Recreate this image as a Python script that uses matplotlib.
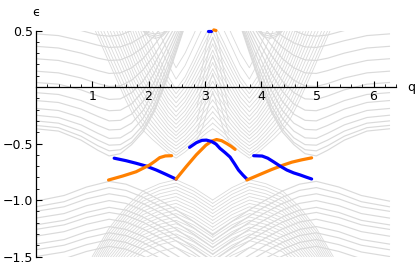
import numpy as np
import matplotlib
matplotlib.use("Agg")
import matplotlib.pyplot as plt
from matplotlib.ticker import MultipleLocator

# ---- data (q in [0, pi]; spectrum is mirror symmetric about q = pi) ----
# upper band, lines falling from q = 0 and turning up past their minimum
upper_a_q = [0.0, 0.4, 0.8, 1.1, 1.3, 1.5, 1.7, 1.9, 2.1, 2.3, 2.5, 2.7]
upper_a_y = [
    [0.55, 0.54, 0.50, 0.46, 0.45, 0.46, 0.50, 0.57, 0.65, 0.75, 0.85, 0.95],
    [0.47, 0.455, 0.41, 0.37, 0.35, 0.355, 0.39, 0.45, 0.53, 0.63, 0.75, 0.87],
    [0.36, 0.345, 0.30, 0.255, 0.235, 0.24, 0.28, 0.35, 0.45, 0.57, 0.70, 0.83],
    [0.25, 0.235, 0.19, 0.145, 0.12, 0.125, 0.17, 0.25, 0.37, 0.50, 0.65, 0.80],
    [0.14, 0.125, 0.08, 0.03, 0.005, 0.01, 0.06, 0.15, 0.28, 0.44, 0.60, 0.76],
    [0.04, 0.025, -0.025, -0.08, -0.11, -0.105, -0.05, 0.05, 0.20, 0.38, 0.56, 0.74],
    [-0.05, -0.066, -0.12, -0.18, -0.21, -0.205, -0.15, -0.04, 0.12, 0.32, 0.52, 0.72],
    [-0.12, -0.137, -0.195, -0.26, -0.30, -0.295, -0.24, -0.13, 0.04, 0.26, 0.48, 0.70],
    [-0.19, -0.208, -0.27, -0.34, -0.38, -0.375, -0.32, -0.21, -0.03, 0.20, 0.44, 0.68],
    [-0.25, -0.27, -0.335, -0.41, -0.455, -0.45, -0.39, -0.28, -0.10, 0.14, 0.40, 0.66],
    [-0.30, -0.32, -0.39, -0.47, -0.515, -0.51, -0.45, -0.34, -0.16, 0.09, 0.37, 0.64],
    [-0.34, -0.36, -0.435, -0.52, -0.565, -0.555, -0.49, -0.375, -0.20, 0.05, 0.34, 0.63],
    [-0.37, -0.39, -0.47, -0.56, -0.61, -0.59, -0.51, -0.40, -0.22, 0.03, 0.32, 0.62],
]
# upper band, lines with their minimum at the gap neck q ~ 2.49
upper_b_q = [1.0, 1.35, 1.6, 1.75, 1.9, 2.05, 2.2, 2.35, 2.49, 2.65, 2.8, 2.95, 3.05, np.pi]
upper_b_y = [
    [0.56, 0.16, -0.12, -0.27, -0.38, -0.455, -0.52, -0.585, -0.63, -0.575, -0.51, -0.44, -0.40, -0.37],
    [0.61, 0.21, -0.07, -0.22, -0.335, -0.415, -0.49, -0.555, -0.605, -0.545, -0.48, -0.405, -0.36, -0.32],
    [0.67, 0.27, -0.01, -0.17, -0.29, -0.38, -0.46, -0.53, -0.58, -0.52, -0.45, -0.37, -0.32, -0.27],
    [0.73, 0.33, 0.05, -0.115, -0.24, -0.34, -0.425, -0.50, -0.55, -0.49, -0.415, -0.33, -0.275, -0.22],
    [0.80, 0.40, 0.11, -0.06, -0.19, -0.30, -0.39, -0.47, -0.52, -0.46, -0.38, -0.29, -0.23, -0.17],
    [0.86, 0.46, 0.17, -0.005, -0.14, -0.255, -0.35, -0.435, -0.49, -0.425, -0.34, -0.245, -0.18, -0.115],
    [0.93, 0.53, 0.23, 0.05, -0.09, -0.21, -0.31, -0.40, -0.46, -0.39, -0.30, -0.20, -0.13, -0.06],
    [1.00, 0.60, 0.29, 0.105, -0.04, -0.165, -0.27, -0.365, -0.43, -0.355, -0.26, -0.155, -0.08, -0.005],
    [1.06, 0.66, 0.35, 0.16, 0.01, -0.12, -0.23, -0.33, -0.40, -0.32, -0.22, -0.11, -0.03, 0.05],
    [1.13, 0.73, 0.41, 0.22, 0.06, -0.075, -0.19, -0.295, -0.365, -0.285, -0.18, -0.065, 0.02, 0.105],
    [1.20, 0.80, 0.48, 0.28, 0.11, -0.03, -0.15, -0.26, -0.33, -0.25, -0.14, -0.02, 0.07, 0.16],
    [1.26, 0.86, 0.54, 0.34, 0.165, 0.02, -0.105, -0.22, -0.295, -0.21, -0.095, 0.03, 0.12, 0.215],
    [1.33, 0.93, 0.60, 0.40, 0.22, 0.07, -0.06, -0.18, -0.26, -0.17, -0.05, 0.08, 0.17, 0.27],
    [1.39, 0.99, 0.66, 0.46, 0.275, 0.12, -0.015, -0.14, -0.22, -0.13, -0.005, 0.13, 0.225, 0.325],
    [1.45, 1.05, 0.72, 0.52, 0.33, 0.17, 0.03, -0.10, -0.18, -0.09, 0.04, 0.18, 0.28, 0.38],
    [1.51, 1.11, 0.78, 0.58, 0.39, 0.225, 0.08, -0.055, -0.14, -0.045, 0.09, 0.235, 0.335, 0.435],
    [1.58, 1.18, 0.85, 0.64, 0.45, 0.28, 0.13, -0.01, -0.10, 0.00, 0.14, 0.29, 0.39, 0.49],
    [1.64, 1.24, 0.91, 0.70, 0.51, 0.34, 0.185, 0.04, -0.06, 0.045, 0.19, 0.345, 0.445, 0.545],
    [1.71, 1.31, 0.98, 0.76, 0.57, 0.40, 0.24, 0.09, -0.02, 0.09, 0.24, 0.40, 0.50, 0.60],
    [1.83, 1.43, 1.10, 0.90, 0.70, 0.52, 0.35, 0.20, 0.07, 0.19, 0.35, 0.51, 0.62, 0.72],
    [1.93, 1.53, 1.20, 1.00, 0.82, 0.64, 0.47, 0.31, 0.17, 0.30, 0.46, 0.63, 0.74, 0.85],
]
# steep lines packed into the column at q = pi
upper_d_q = [2.86, 2.96, 3.04, 3.1, np.pi]
upper_d_y = [
    [-0.47, -0.36, -0.22, -0.10, -0.04],
    [-0.40, -0.24, -0.07, 0.06, 0.12],
    [-0.30, -0.10, 0.09, 0.22, 0.28],
    [-0.18, 0.04, 0.25, 0.38, 0.44],
    [-0.05, 0.18, 0.40, 0.53, 0.60],
]
# dense patch just under the top edge near q ~ 2.1
upper_c_q = [1.85, 2.0, 2.12, 2.25, 2.38]
upper_c_y = [
    [0.52, 0.45, 0.43, 0.45, 0.52],
    [0.52, 0.465, 0.45, 0.465, 0.52],
    [0.52, 0.48, 0.47, 0.48, 0.52],
]
# lower band, lines peaking at the neck q ~ 1.3
lower_a_q = [0.0, 0.5, 0.9, 1.3, 1.6, 1.9, 2.2, 2.5, 2.8, np.pi]
lower_a_y = [
    [-1.01, -0.96, -0.885, -0.835, -0.86, -0.92, -1.00, -1.09, -1.19, -1.31],
    [-1.06, -1.015, -0.94, -0.89, -0.915, -0.975, -1.055, -1.145, -1.245, -1.365],
    [-1.10, -1.06, -0.99, -0.945, -0.97, -1.03, -1.11, -1.20, -1.30, -1.42],
    [-1.16, -1.12, -1.05, -1.005, -1.03, -1.09, -1.17, -1.26, -1.36, -1.48],
    [-1.22, -1.18, -1.11, -1.065, -1.09, -1.15, -1.23, -1.32, -1.42, -1.54],
    [-1.26, -1.22, -1.155, -1.11, -1.135, -1.195, -1.275, -1.365, -1.465, -1.585],
    [-1.32, -1.28, -1.215, -1.17, -1.195, -1.255, -1.335, -1.425, -1.525, -1.645],
    [-1.39, -1.35, -1.28, -1.235, -1.26, -1.32, -1.40, -1.49, -1.59, -1.71],
    [-1.44, -1.40, -1.335, -1.29, -1.315, -1.375, -1.455, -1.545, -1.645, -1.765],
    [-1.50, -1.46, -1.395, -1.35, -1.375, -1.435, -1.515, -1.605, -1.705, -1.825],
    [-1.56, -1.52, -1.455, -1.41, -1.435, -1.495, -1.575, -1.665, -1.765, -1.885],
]
# lower band, lines peaking at the neck q ~ 2.49
lower_b_q = [1.0, 1.3, 1.6, 1.9, 2.2, 2.49, 2.8, np.pi]
lower_b_y = [
    [-1.50, -1.25, -1.06, -0.92, -0.855, -0.82, -0.89, -1.00],
    [-1.53, -1.28, -1.09, -0.95, -0.885, -0.85, -0.92, -1.03],
    [-1.56, -1.31, -1.12, -0.98, -0.915, -0.88, -0.95, -1.06],
    [-1.59, -1.34, -1.15, -1.01, -0.945, -0.91, -0.98, -1.09],
    [-1.62, -1.37, -1.18, -1.04, -0.975, -0.94, -1.01, -1.12],
    [-1.65, -1.40, -1.21, -1.07, -1.005, -0.97, -1.04, -1.15],
    [-1.68, -1.43, -1.24, -1.10, -1.035, -1.00, -1.07, -1.18],
    [-1.71, -1.46, -1.27, -1.13, -1.065, -1.03, -1.10, -1.21],
    [-1.74, -1.49, -1.30, -1.16, -1.095, -1.06, -1.13, -1.24],
    [-1.77, -1.52, -1.33, -1.19, -1.125, -1.09, -1.16, -1.27],
    [-1.80, -1.55, -1.36, -1.22, -1.155, -1.12, -1.19, -1.30],
    [-1.83, -1.58, -1.39, -1.25, -1.185, -1.15, -1.22, -1.33],
    [-1.86, -1.61, -1.42, -1.28, -1.215, -1.18, -1.25, -1.36],
    [-1.89, -1.64, -1.45, -1.31, -1.245, -1.21, -1.28, -1.39],
    [-1.92, -1.67, -1.48, -1.34, -1.275, -1.24, -1.31, -1.42],
    [-1.95, -1.70, -1.51, -1.37, -1.305, -1.27, -1.34, -1.45],
    [-1.98, -1.73, -1.54, -1.40, -1.335, -1.30, -1.37, -1.48],
    [-2.01, -1.76, -1.57, -1.43, -1.365, -1.33, -1.40, -1.51],
    [-2.04, -1.79, -1.60, -1.46, -1.395, -1.36, -1.43, -1.54],
    [-2.10, -1.85, -1.66, -1.52, -1.455, -1.42, -1.49, -1.60],
]

# edge states
blue_1_q = [1.39, 1.6, 1.78, 1.96, 2.14, 2.31, 2.49]
blue_1_y = [-0.63, -0.652, -0.675, -0.70, -0.735, -0.773, -0.815]
orange_1_q = [1.29, 1.54, 1.78, 2.02, 2.12, 2.2, 2.3, 2.41]
orange_1_y = [-0.823, -0.788, -0.75, -0.69, -0.655, -0.625, -0.61, -0.608]
orange_2_q = [2.49, 2.67, 2.85, 3.02, 3.12, 3.21, 3.3, 3.39, 3.47, 3.54]
orange_2_y = [-0.815, -0.705, -0.60, -0.515, -0.48, -0.465, -0.475, -0.50, -0.525, -0.552]
blue_2_q = [2.73, 2.85, 2.95, 3.03, 3.12, 3.2, 3.27, 3.36, 3.45, 3.53, 3.6, 3.68, 3.75]
blue_2_y = [-0.534, -0.493, -0.472, -0.47, -0.482, -0.505, -0.543, -0.58, -0.62, -0.68, -0.735, -0.78, -0.815]
orange_3_q = [3.75, 4.0, 4.19, 4.4, 4.55, 4.72, 4.9]
orange_3_y = [-0.823, -0.77, -0.73, -0.69, -0.665, -0.645, -0.627]
blue_3_q = [3.87, 4.02, 4.12, 4.22, 4.34, 4.46, 4.58, 4.70, 4.8, 4.9]
blue_3_y = [-0.608, -0.611, -0.63, -0.661, -0.70, -0.735, -0.76, -0.779, -0.797, -0.814]
blue_top_q = [3.06, 3.11]
blue_top_y = [0.5, 0.5]
orange_top_q = [3.16, 3.2]
orange_top_y = [0.505, 0.5]

GRAY = "#dadada"
BLUE = "#0000ff"
ORANGE = "#ff8000"

fig = plt.figure(figsize=(4.15, 2.67), dpi=100)
ax = fig.add_axes([36 / 415, 10.5 / 267, 360 / 415, 226 / 267])


def gray_family(qs, rows, lw=0.75):
    q = np.asarray(qs)
    for ys in rows:
        # left half as read, right half by the mirror symmetry about pi
        ax.plot(q, ys, color=GRAY, lw=lw, zorder=1)
        ax.plot(2 * np.pi - q, ys, color=GRAY, lw=lw, zorder=1)


gray_family(upper_a_q, upper_a_y, lw=0.85)
gray_family(upper_b_q, upper_b_y, lw=0.6)
gray_family(upper_c_q, upper_c_y)
gray_family(upper_d_q, upper_d_y, lw=0.6)
gray_family(lower_a_q, lower_a_y, lw=0.85)
gray_family(lower_b_q, lower_b_y, lw=0.6)

for q, y, c in [(blue_1_q, blue_1_y, BLUE), (orange_1_q, orange_1_y, ORANGE),
                (orange_2_q, orange_2_y, ORANGE), (blue_2_q, blue_2_y, BLUE),
                (orange_3_q, orange_3_y, ORANGE), (blue_3_q, blue_3_y, BLUE)]:
    ax.plot(q, y, color=c, lw=2.3, solid_capstyle="round", zorder=3)
ax.plot(blue_top_q, blue_top_y, color=BLUE, lw=2.3, solid_capstyle="round", zorder=3, clip_on=False)
ax.plot(orange_top_q, orange_top_y, color=ORANGE, lw=2.3, solid_capstyle="round", zorder=3, clip_on=False)

# axes in the Mathematica style: crossing at the origin, ticks pointing inward
ax.set_xlim(0, 6.4)
ax.set_ylim(-1.5, 0.5)
ax.spines["top"].set_visible(False)
ax.spines["right"].set_visible(False)
ax.spines["bottom"].set_position(("data", 0))
for s in ("bottom", "left"):
    ax.spines[s].set_linewidth(0.9)
    ax.spines[s].set_zorder(4)

ax.set_xticks([1, 2, 3, 4, 5, 6])
ax.xaxis.set_minor_locator(MultipleLocator(0.2))
ax.set_yticks([-1.5, -1.0, -0.5, 0.5])
ax.set_yticklabels(["\u22121.5", "\u22121.0", "\u22120.5", "0.5"])
ax.yaxis.set_minor_locator(MultipleLocator(0.1))
ax.tick_params(which="major", direction="in", length=4, width=0.8, labelsize=9, pad=2)
ax.tick_params(which="minor", direction="in", length=2.2, width=0.6)

ax.text(0, 0.5 + 0.16, "\u03f5", ha="center", va="center", fontsize=9, clip_on=False)
ax.text(6.6, 0, "q", ha="left", va="center", fontsize=9, clip_on=False)

fig.savefig("out.png", dpi=100)
